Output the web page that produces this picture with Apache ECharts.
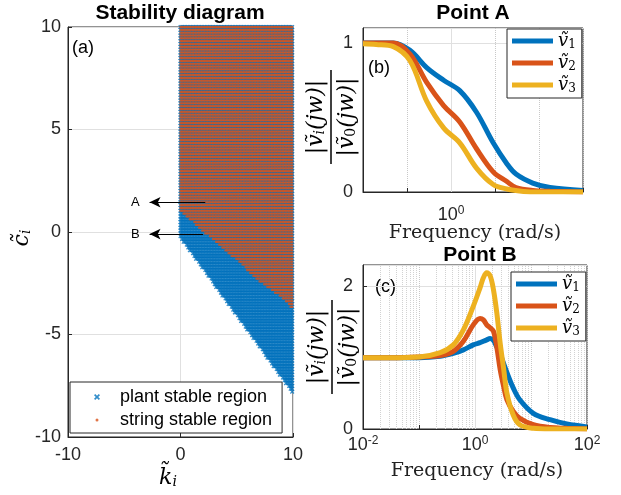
<!DOCTYPE html>
<html>
<head>
<meta charset="utf-8">
<script src="https://cdn.jsdelivr.net/npm/echarts@6/dist/echarts.min.js"></script>
<style>
  html, body { margin: 0; padding: 0; background: #fff; }
  #chart { width: 621px; height: 495px; }
</style>
</head>
<body>
<div id="chart"></div>
<script>
// (a) stability diagram: region outlines, as [k_i, c_i]
const gridStep = 0.1379
const plantRegion = [[-0.05, 10.05], [10.05, 10.05], [10.05, -7.9], [-0.05, -0.25]]
const stringRegion = [[-0.05, 10.05], [10.05, 10.05], [10.05, -3.8], [8.9, -3.16], [6.8, -2.34],
  [5.3, -1.53], [3.6, -0.72], [2.2, -0.07], [0.9, 0.59], [-0.05, 1.0]]
const pointA = [2.2, 1.45]
const pointB = [2.0, -0.1]
const arrowTipK = -2.75

// (b) Point A, |v_i/v_0| against frequency
const freqA = [0.01, 0.02, 0.049, 0.117, 0.28, 0.68, 1.58, 3.8, 9.1, 18.6, 30, 72, 178, 1000]
const v1A = [1.0, 1.0, 1.0, 0.95, 0.835, 0.75, 0.68, 0.535, 0.33, 0.19, 0.12, 0.06, 0.03, 0.01]
const v2A = [1.0, 1.0, 1.0, 0.925, 0.735, 0.58, 0.47, 0.29, 0.135, 0.07, 0.03, 0.01, 0.005, 0.0]
const v3A = [0.995, 0.99, 0.975, 0.88, 0.61, 0.43, 0.33, 0.16, 0.05, 0.02, 0.01, 0.0, 0.0, 0.0]

// (c) Point B
const freqB = [0.01, 0.032, 0.1, 0.24, 0.41, 0.62, 0.93, 1.23, 1.41, 1.62, 1.86, 2.14, 2.45, 2.82,
  3.24, 3.72, 4.79, 6.31, 11, 21.9, 43.7, 100]
const v1B = [1.0, 1.0, 1.0, 1.02, 1.06, 1.11, 1.18, 1.21, 1.23, 1.25, 1.27, 1.24, 1.15, 1.05,
  0.92, 0.79, 0.58, 0.41, 0.22, 0.13, 0.07, 0.03]
const v2B = [1.0, 1.0, 1.01, 1.03, 1.09, 1.23, 1.46, 1.55, 1.53, 1.46, 1.42, 1.37, 1.15, 0.83,
  0.6, 0.41, 0.25, 0.15, 0.06, 0.02, 0.01, 0.0]
const v3B = [1.0, 1.0, 1.01, 1.07, 1.18, 1.39, 1.72, 1.98, 2.12, 2.19, 2.15, 1.95, 1.63, 1.2,
  0.85, 0.5, 0.2, 0.06, 0.01, 0.0, 0.0, 0.0]

const lineNames = ['v1', 'v2', 'v3']
const colors = ['#0072BD', '#D95319', '#EDB120']

const sans = '"Liberation Sans", Arial, sans-serif'
const serif = '"DejaVu Serif", serif'
const axisColor = '#262626'
const gridColor = '#e0e0e0'
const xMark = 'path://M0,2L2,0L5,3L8,0L10,2L7,5L10,8L8,10L5,7L2,10L0,8L3,5Z'
const dotMark = 'path://M0,0M10,10M5,2.5A2.5,2.5,0,1,1,5,7.5A2.5,2.5,0,1,1,5,2.5Z'

function inside(p, poly) {
  let c = false
  for (let i = 0, j = poly.length - 1; i < poly.length; j = i++) {
    const xi = poly[i][0], yi = poly[i][1], xj = poly[j][0], yj = poly[j][1]
    if ((yi > p[1]) !== (yj > p[1]) && p[0] < (xj - xi) * (p[1] - yi) / (yj - yi) + xi) c = !c
  }
  return c
}

// sample the regions on the regular k/c grid used for the diagram
let plantPts = [], stringPts = []
for (let i = 0; i * gridStep <= 10.01; i++) {
  for (let j = 0; 10 - j * gridStep >= -10; j++) {
    const p = [i * gridStep, 10 - j * gridStep]
    if (inside(p, plantRegion)) plantPts.push(p)
    if (inside(p, stringRegion)) stringPts.push(p)
  }
}

const pairs = (xs, ys) => xs.map((x, i) => [x, ys[i]])

const tickLabel = {
  color: axisColor, fontSize: 18, fontFamily: sans
}
const powRich = {
  b: {fontSize: 18, fontFamily: sans, color: axisColor, lineHeight: 20},
  s: {fontSize: 12, fontFamily: sans, color: axisColor, verticalAlign: 'top', lineHeight: 12}
}
function powLabel(keep) {
  return function (v) {
    const e = Math.round(Math.log10(v))
    if (keep.indexOf(e) < 0) return ''
    return '{b|10}{s|' + e + '}'
  }
}

function valueAxis(gridIndex, min, max, interval, margin) {
  return {
    gridIndex, type: 'value', min, max, interval,
    axisLine: {show: true, onZero: false, lineStyle: {color: axisColor}},
    axisTick: {show: true, inside: true, length: 4, lineStyle: {color: axisColor}},
    axisLabel: Object.assign({margin, showMaxLabel: max !== 10 ? false : true}, tickLabel),
    splitLine: {show: true, lineStyle: {color: gridColor}}
  }
}
function logAxis(gridIndex, min, max, keep, margin) {
  return {
    gridIndex, type: 'log', logBase: 10, min, max,
    axisLine: {show: true, onZero: false, lineStyle: {color: axisColor}},
    axisTick: {show: true, inside: true, length: 4, lineStyle: {color: axisColor}},
    axisLabel: {margin, formatter: powLabel(keep), rich: powRich},
    splitLine: {show: true, lineStyle: {color: '#c8c8c8', type: 'dotted'}}
  }
}

// faint grid lines the plot tool drew (solid at 10^0, dotted minor ones)
let minorB = []
for (let d = -2; d < 2; d++) {
  for (let m = 2; m <= 9; m++) minorB.push({xAxis: m * Math.pow(10, d)})
}
function guideSeries(idx, dotted) {
  return {
    type: 'line', xAxisIndex: idx, yAxisIndex: idx, data: [], z: 1, silent: true,
    markLine: {
      silent: true, symbol: 'none', animation: false, label: {show: false}, z: 1,
      emphasis: {disabled: true},
      data: [{xAxis: 1, lineStyle: {color: gridColor, type: 'solid', width: 1}}].concat(
        dotted.map(d => Object.assign({lineStyle: {color: '#d2d2d2', type: 'dotted', width: 1}}, d)))
    }
  }
}

function curve(name, i, idx, xs, ys) {
  return {
    name, type: 'line', xAxisIndex: idx, yAxisIndex: idx, data: pairs(xs, ys),
    symbol: 'none', smooth: 0.35, z: 3 + i,
    lineStyle: {color: colors[i], width: 5},
    itemStyle: {color: colors[i]}
  }
}

const vRich = {
  v: {fontFamily: serif, fontStyle: 'italic', fontSize: 18, color: '#000', lineHeight: 20},
  s: {fontFamily: serif, fontSize: 12, color: '#000', verticalAlign: 'bottom', lineHeight: 14}
}
function lineLegend(left, top) {
  return {
    data: lineNames, orient: 'vertical', left, top, icon: 'rect',
    itemWidth: 41, itemHeight: 5, itemGap: 3, padding: [3, 6, 3, 5],
    backgroundColor: '#fff', borderColor: axisColor, borderWidth: 1, borderRadius: 0,
    formatter: n => '{v|\u1E7D}{s|' + n.slice(1) + '}',
    textStyle: {rich: vRich}
  }
}

const fracRich = {
  a: {fontFamily: serif, fontStyle: 'italic', fontSize: 22, color: '#000'},
  s: {fontFamily: serif, fontStyle: 'italic', fontSize: 14, color: '#000', verticalAlign: 'bottom', lineHeight: 20},
  u: {fontFamily: serif, fontSize: 14, color: '#000', verticalAlign: 'bottom', lineHeight: 20}
}
function fraction(x, y) {
  return {
    type: 'group', x, y, rotation: Math.PI / 2,
    children: [
      {type: 'text', x: 0, y: -15, style: {text: '{a|\u007C\u1E7D}{s|i}{a|(jw)\u007C}', rich: fracRich,
        align: 'center', verticalAlign: 'middle', textAlign: 'center', textVerticalAlign: 'middle'}},
      {type: 'line', shape: {x1: -47, y1: 0, x2: 47, y2: 0}, style: {stroke: '#000', lineWidth: 1.5}},
      {type: 'text', x: 0, y: 16, style: {text: '{a|\u007C\u1E7D}{u|0}{a|(jw)\u007C}', rich: fracRich,
        align: 'center', verticalAlign: 'middle', textAlign: 'center', textVerticalAlign: 'middle'}}
    ]
  }
}
function label(text, x, y, size, weight, align) {
  return {
    type: 'text', x, y,
    style: {text, fontSize: size, fontFamily: sans, fontWeight: weight || 'normal', fill: '#000',
      align: align || 'center', verticalAlign: 'middle',
      textAlign: align || 'center', textVerticalAlign: 'middle'}
  }
}
function freqLabel(x, y) {
  return {
    type: 'text', x, y,
    style: {text: 'Frequency (rad/s)', fontSize: 19, fontFamily: serif, fill: '#222',
      align: 'center', verticalAlign: 'middle', textAlign: 'center', textVerticalAlign: 'middle'}
  }
}

const option = {
  animation: false,
  backgroundColor: '#fff',
  grid: [
    {left: 68, top: 27, width: 225, height: 410, show: true, borderColor: axisColor, borderWidth: 1},
    {left: 363, top: 28, width: 220, height: 164, show: true, borderColor: axisColor, borderWidth: 1},
    {left: 363, top: 265, width: 224, height: 164, show: true, borderColor: axisColor, borderWidth: 1}
  ],
  xAxis: [
    valueAxis(0, -10, 10, 10, 9),
    logAxis(1, 0.01, 1000, [0], 13),
    logAxis(2, 0.01, 100, [-2, 0, 2], 6)
  ],
  yAxis: [
    valueAxis(0, -10, 10, 5, 7),
    valueAxis(1, 0, 1.1, 1, 10),
    valueAxis(2, 0, 2.3, 2, 10)
  ],
  legend: [
    {
      data: [{name: 'plant stable region', icon: xMark}, {name: 'string stable region', icon: dotMark}],
      orient: 'vertical', left: 70, top: 382, itemWidth: 36, itemHeight: 6, itemGap: 5,
      padding: [6, 10, 4, 24], backgroundColor: '#fff', borderColor: axisColor, borderWidth: 1,
      textStyle: {fontSize: 18, fontFamily: sans, color: '#000'}
    },
    lineLegend(507, 29),
    lineLegend(511, 272)
  ],
  series: [
    {
      name: 'plant stable region', type: 'scatter', xAxisIndex: 0, yAxisIndex: 0,
      data: plantPts, symbol: xMark, symbolSize: 4.5, itemStyle: {color: colors[0]},
      silent: true, z: 2, progressive: 0, large: false
    },
    {
      name: 'string stable region', type: 'scatter', xAxisIndex: 0, yAxisIndex: 0,
      data: stringPts, symbol: 'rect', symbolSize: [2.2, 2.2], itemStyle: {color: colors[1]},
      silent: true, z: 3, progressive: 0, large: false
    },
    {
      type: 'line', xAxisIndex: 0, yAxisIndex: 0, data: [], z: 10, silent: true,
      markLine: {
        silent: true, symbol: ['none', 'arrow'], symbolSize: [8, 11], animation: false,
        lineStyle: {color: '#000', width: 1, type: 'solid'},
        label: {show: true, position: 'end', distance: 10, fontSize: 13, fontFamily: sans, color: '#000'},
        emphasis: {disabled: true},
        data: [
          [{coord: pointA, name: 'A', label: {formatter: 'A'}}, {coord: [arrowTipK, pointA[1]]}],
          [{coord: pointB, name: 'B', label: {formatter: 'B'}}, {coord: [arrowTipK, pointB[1]]}]
        ]
      }
    },
    guideSeries(1, []),
    guideSeries(2, minorB),
    curve('v1', 0, 1, freqA, v1A),
    curve('v2', 1, 1, freqA, v2A),
    curve('v3', 2, 1, freqA, v3A),
    curve('v1', 0, 2, freqB, v1B),
    curve('v2', 1, 2, freqB, v2B),
    curve('v3', 2, 2, freqB, v3B)
  ],
  graphic: [
    label('Stability diagram', 180, 13, 21, 'bold'),
    label('Point A', 473, 13, 21, 'bold'),
    label('Point B', 480, 255, 21, 'bold'),
    label('(a)', 72, 48, 18, 'normal', 'left'),
    label('(b)', 368, 68, 18, 'normal', 'left'),
    label('(c)', 375, 287, 18, 'normal', 'left'),
    {
      type: 'group', x: 22, y: 238, rotation: Math.PI / 2,
      children: [{type: 'text', x: 0, y: 0, style: {text: '{a|c\u0303}{s|i}',
        rich: {a: {fontFamily: serif, fontStyle: 'italic', fontSize: 22, color: '#000'},
          s: {fontFamily: serif, fontStyle: 'italic', fontSize: 14, color: '#000', verticalAlign: 'bottom', lineHeight: 20}},
        align: 'center', verticalAlign: 'middle', textAlign: 'center', textVerticalAlign: 'middle'}}]
    },
    {
      type: 'text', x: 168, y: 478, style: {text: '{a|k\u0303}{s|i}',
        rich: {a: {fontFamily: serif, fontStyle: 'italic', fontSize: 22, color: '#000'},
          s: {fontFamily: serif, fontStyle: 'italic', fontSize: 14, color: '#000', verticalAlign: 'bottom', lineHeight: 20}},
        align: 'center', verticalAlign: 'middle', textAlign: 'center', textVerticalAlign: 'middle'}
    },
    fraction(331, 117),
    fraction(332, 347),
    freqLabel(475, 233),
    freqLabel(477, 471)
  ]
}

const chart = echarts.init(document.getElementById('chart'))
chart.setOption(option)
</script>
</body>
</html>
